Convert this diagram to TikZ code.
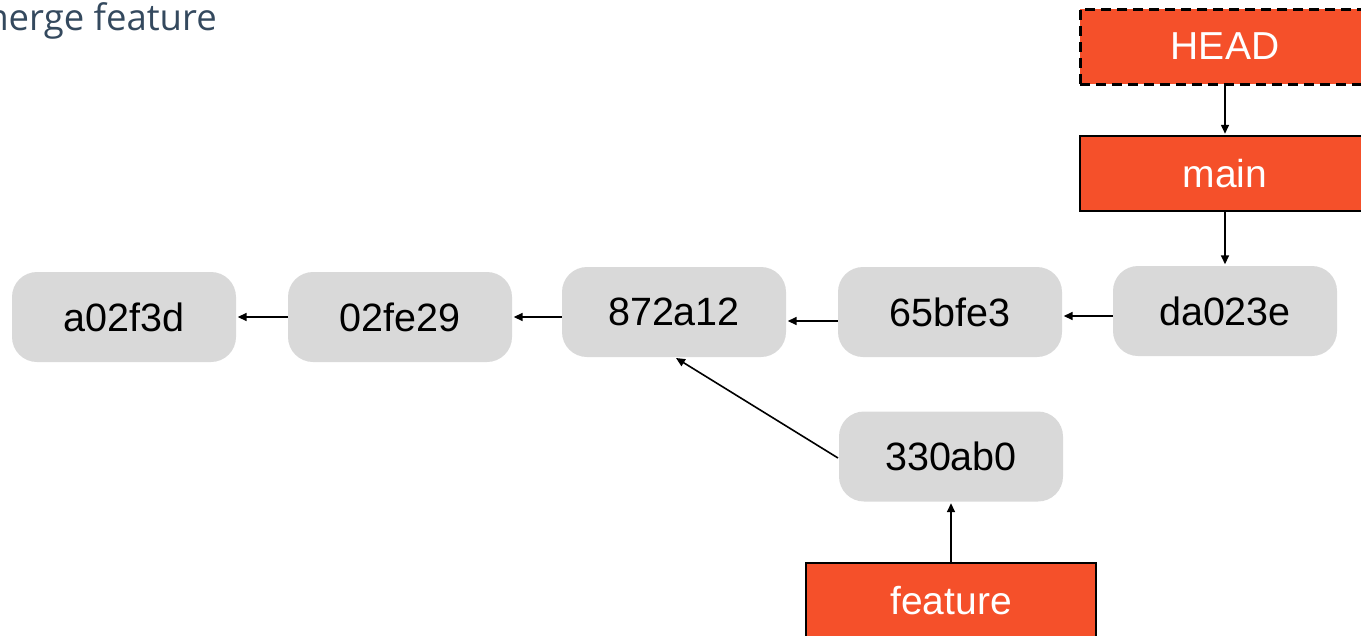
\documentclass[tikz,border=0pt]{standalone}
\usepackage{fontspec}
\setmainfont{Liberation Sans}
\newfontfamily\titlefont{Open Sans}
\usetikzlibrary{arrows.meta}
\definecolor{gitorange}{HTML}{F5502A}
\definecolor{commitgray}{HTML}{D9D9D9}
\definecolor{titlecol}{HTML}{34495E}
\tikzset{
  commit/.style={fill=commitgray, rounded corners=25pt, minimum width=224pt, minimum height=90pt, inner sep=0pt, font=\fontsize{39.5}{46}\selectfont},
  ref/.style={fill=gitorange, draw=black, line width=1.5pt, minimum width=290pt, minimum height=75pt, inner sep=0pt, text=white, font=\fontsize{39}{46}\selectfont},
  headref/.style={ref, line width=3pt, dash pattern=on 10pt off 6pt},
  arr/.style={-{Triangle[length=9pt,width=8pt]}, line width=1.6pt, shorten >=1.5pt},
}
\begin{document}
\begin{tikzpicture}[x=1pt,y=-1pt]
\useasboundingbox (0,0) rectangle (1361,635);
\node[font=\titlefont\fontsize{36.5}{40}\selectfont, text=titlecol, anchor=base east, inner sep=0pt] (title) at (217,30) {merge feature};
\node[commit] (a02) at (124,317) {a02f3d};
\node[commit] (b02) at (400,317) {02fe29};
\node[commit] (c87) at (674,312) {872a12};
\node[commit] (d65) at (950,312) {65bfe3};
\node[commit] (eda) at (1225,311) {da023e};
\node[commit] (f33) at (951,456.5) {330ab0};
\node[headref] (head) at (1225,46.5) {HEAD};
\node[ref] (main) at (1225,173.5) {main};
\node[ref] (feat) at (951,600.5) {feature};
\coordinate (p1) at (400,317);
\draw[arr] (b02.west) -- (a02.east);
\draw[arr] (c87.west |- p1) -- (b02.east);
\coordinate (p2) at (0,321);
\draw[arr] (d65.west |- p2) -- (c87.east |- p2);
\coordinate (p3) at (0,316);
\draw[arr] (eda.west |- p3) -- (d65.east |- p3);
\coordinate (p4) at (838,458);
\coordinate (p5) at (676,358);
\draw[arr, shorten >=0pt] (p4) -- (p5);
\draw[arr] (feat.north) -- (f33.south);
\draw[arr] (head.south) -- (main.north);
\draw[arr] (main.south) -- (eda.north);
\end{tikzpicture}
\end{document}
